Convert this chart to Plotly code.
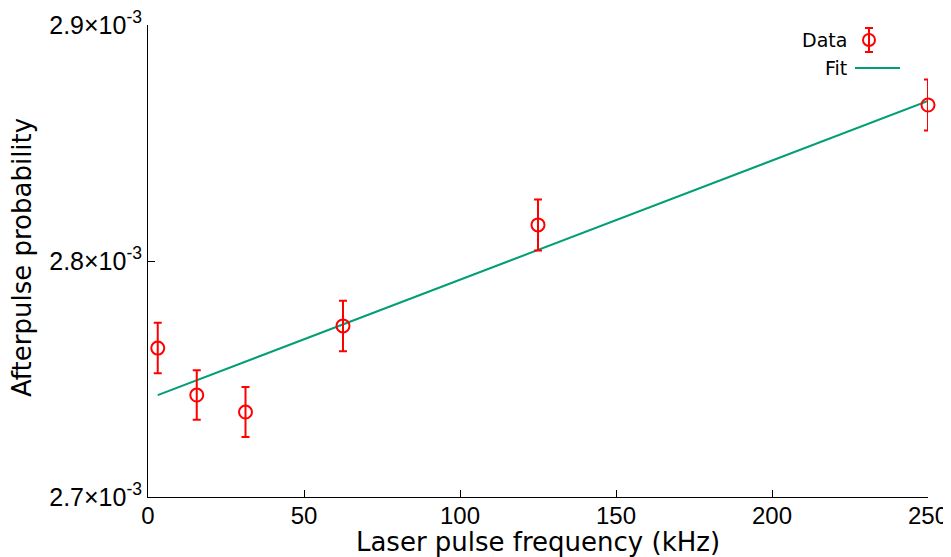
import plotly.graph_objects as go

# Data
freq_khz = [3.125, 15.625, 31.25, 62.5, 125.0, 250.0]
afterpulse = [2.7631e-3, 2.7432e-3, 2.7360e-3, 2.7725e-3, 2.8153e-3, 2.8661e-3]
afterpulse_err = [1.07e-5, 1.05e-5, 1.06e-5, 1.07e-5, 1.08e-5, 1.08e-5]

# Linear fit parameters: y = a + b*x
fit_a = 2.7416e-3
fit_b = 5.047e-7
fit_y = [fit_a + fit_b * x for x in freq_khz]

x_ticks = [0, 50, 100, 150, 200, 250]
y_ticks = [2.7e-3, 2.8e-3, 2.9e-3]
y_ticktext = ["2.7×10<sup>-3</sup>", "2.8×10<sup>-3</sup>", "2.9×10<sup>-3</sup>"]

RED = "#ff0000"
GREEN = "#009e73"

# page body has an 8px margin; compensate so the figure lands at the same screen pixels
OFF = 8
W, H = 951 - OFF, 557 - OFF
L, R, T, B = 148 - OFF, 23, 25 - OFF, 60
pw, ph = W - L - R, H - T - B

def px(x):
    return (x - OFF - L) / pw

def py(y):
    return 1 - (y - OFF - T) / ph

fig = go.Figure()
fig.add_trace(go.Scatter(
    x=freq_khz, y=fit_y, mode="lines",
    line=dict(color=GREEN, width=2), name="Fit", showlegend=False, cliponaxis=False,
))
fig.add_trace(go.Scatter(
    x=freq_khz, y=afterpulse, mode="markers",
    marker=dict(symbol="circle-open", size=13, color=RED, line=dict(width=2, color=RED)),
    error_y=dict(type="data", array=afterpulse_err, color=RED, thickness=2, width=4),
    name="Data", showlegend=False, cliponaxis=False,
))

# Custom gnuplot-style legend (text left of key)
fig.add_annotation(x=px(849), y=py(40), xref="paper", yref="paper", text="Data", showarrow=False,
                   xanchor="right", yanchor="middle", font=dict(family="DejaVu Sans", size=19, color="black"))
fig.add_annotation(x=px(849), y=py(68), xref="paper", yref="paper", text="Fit", showarrow=False,
                   xanchor="right", yanchor="middle", font=dict(family="DejaVu Sans", size=19, color="black"))
# Y axis title
fig.add_annotation(x=px(22), y=py(258), xref="paper", yref="paper", text="Afterpulse probability",
                   showarrow=False, textangle=-90, xanchor="center", yanchor="middle",
                   font=dict(family="DejaVu Sans", size=26, color="black"))

shapes = [
    dict(type="circle", xref="paper", yref="paper", x0=px(863), x1=px(875), y0=py(34), y1=py(46),
         line=dict(color=RED, width=2)),
    dict(type="line", xref="paper", yref="paper", x0=px(869), x1=px(869), y0=py(28), y1=py(52),
         line=dict(color=RED, width=2)),
    dict(type="line", xref="paper", yref="paper", x0=px(865), x1=px(873), y0=py(28), y1=py(28),
         line=dict(color=RED, width=2)),
    dict(type="line", xref="paper", yref="paper", x0=px(865), x1=px(873), y0=py(52), y1=py(52),
         line=dict(color=RED, width=2)),
    dict(type="line", xref="paper", yref="paper", x0=px(855), x1=px(900), y0=py(68), y1=py(68),
         line=dict(color=GREEN, width=2)),
]

fig.update_layout(
    width=W, height=H,
    margin=dict(l=L, r=R, t=T, b=B, autoexpand=False),
    paper_bgcolor="white", plot_bgcolor="white",
    showlegend=False,
    shapes=shapes,
    font=dict(family="Liberation Sans", size=21, color="black"),
    xaxis=dict(
        range=[0, 250], tickvals=x_ticks, ticks="inside", ticklen=7, tickwidth=1, tickcolor="black",
        showline=True, linecolor="black", linewidth=1, showgrid=False, zeroline=False, automargin=False,
        tickfont=dict(family="Liberation Sans", size=24), ticklabelstandoff=-3,
        ticklabeloverflow="allow",
        title=dict(text="Laser pulse frequency (kHz)", font=dict(family="DejaVu Sans", size=26), standoff=0),
    ),
    yaxis=dict(
        range=[2.7e-3, 2.9e-3], tickvals=y_ticks, ticktext=y_ticktext, ticks="inside", ticklen=7,
        tickwidth=1, tickcolor="black", automargin=False, ticklabeloverflow="allow",
        showline=True, linecolor="black", linewidth=1, showgrid=False, zeroline=False,
        tickfont=dict(family="Liberation Sans", size=25),
    ),
)

fig.write_html("out.html")
